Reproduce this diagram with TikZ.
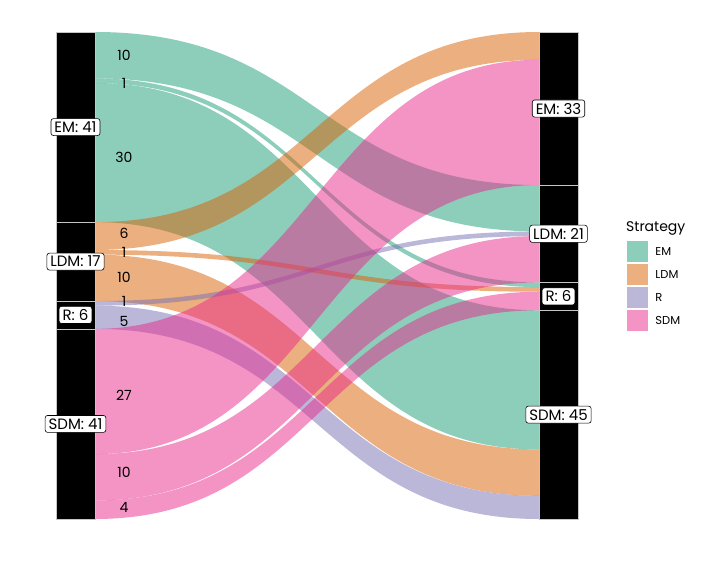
\documentclass[tikz,border=0pt]{standalone}
\usepackage{fontspec}
\setmainfont{Poppins}
\usetikzlibrary{positioning}
\tikzset{>=latex}
\definecolor{emColour}{RGB}{27,158,119}
\definecolor{ldmColour}{RGB}{217,95,2}
\definecolor{rColour}{RGB}{117,112,179}
\definecolor{sdmColour}{RGB}{231,41,138}
\tikzset{
	stratumbox/.style={fill=black, draw=gray!45, line width=0.6pt},
	stratumlabel/.style={draw=black, fill=white, rounded corners=2.5pt, inner xsep=3.5pt, inner ysep=3pt, line width=0.6pt, font=\fontsize{15}{15}\selectfont},
	flowlabel/.style={inner sep=0pt, font=\fontsize{14}{14}\selectfont},
	legendkey/.style={minimum size=21pt, inner sep=0pt},
	legendtext/.style={inner sep=0pt, anchor=west, font=\fontsize{11.5}{11.5}\selectfont}
}
\newcommand{\ky}[1]{32+4.6381*#1}
\begin{document}
\begin{tikzpicture}[x=1pt, y=-1pt]
		\useasboundingbox (0,0) rectangle (701,573);

		% the flows, left range and right range in counts
		\foreach \col/\la/\lb/\ra/\rb in {emColour/0/10/33/43, emColour/10/11/54/55, emColour/11/41/60/90,
			ldmColour/41/47/0/6, ldmColour/47/48/55/56, ldmColour/48/58/90/100,
			rColour/58/59/43/44, rColour/59/64/100/105,
			sdmColour/64/91/6/33, sdmColour/91/101/44/54, sdmColour/101/105/56/60}
			\fill[\col, fill opacity=0.5] (95,{\ky{\la}}) .. controls (317,{\ky{\la}}) and (317,{\ky{\ra}}) .. (539,{\ky{\ra}})
				-- (539,{\ky{\rb}}) .. controls (317,{\ky{\rb}}) and (317,{\ky{\lb}}) .. (95,{\ky{\lb}}) -- cycle;

		% the strata
		\foreach \a/\b in {0/41, 41/58, 58/64, 64/105}
			\draw[stratumbox] (56,{\ky{\a}}) rectangle (95,{\ky{\b}});
		\foreach \a/\b in {0/33, 33/54, 54/60, 60/105}
			\draw[stratumbox] (539,{\ky{\a}}) rectangle (578,{\ky{\b}});

		% flow counts
		\node[flowlabel] (nEMLDM) at (124,{\ky{5}}) {10};
		\node[flowlabel] (nEMR) at (124,{\ky{11}}) {1};
		\node[flowlabel] (nEMSDM) at (124,{\ky{27}}) {30};
		\node[flowlabel] (nLDMEM) at (124,{\ky{43.5}}) {6};
		\node[flowlabel] (nLDMR) at (124,{\ky{47.5}}) {1};
		\node[flowlabel] (nLDMSDM) at (124,{\ky{53}}) {10};
		\node[flowlabel] (nRLDM) at (124,{\ky{58}}) {1};
		\node[flowlabel] (nRSDM) at (124,{\ky{62.3}}) {5};
		\node[flowlabel] (nSDMEM) at (124,{\ky{78.3}}) {27};
		\node[flowlabel] (nSDMLDM) at (124,{\ky{95}}) {10};
		\node[flowlabel] (nSDMR) at (124,{\ky{102.5}}) {4};

		% stratum labels
		\node[stratumlabel] (leftEM) at (75.5,{\ky{20.5}}) {EM: 41};
		\node[stratumlabel] (leftLDM) at (75.5,{\ky{49.5}}) {LDM: 17};
		\node[stratumlabel] (leftR) at (75.5,{\ky{61}}) {R: 6};
		\node[stratumlabel] (leftSDM) at (75.5,{\ky{84.5}}) {SDM: 41};
		\node[stratumlabel] (rightEM) at (558.5,{\ky{16.5}}) {EM: 33};
		\node[stratumlabel] (rightLDM) at (558.5,{\ky{43.5}}) {LDM: 21};
		\node[stratumlabel] (rightR) at (558.5,{\ky{57}}) {R: 6};
		\node[stratumlabel] (rightSDM) at (558.5,{\ky{82.5}}) {SDM: 45};

		% legend
		\node[anchor=west, inner sep=0pt, font=\fontsize{14}{14}\selectfont] (legendTitle) at (626,228) {Strategy};
		\node[legendkey, fill=emColour!50] (keyEM) at (637.5,251.5) {};
		\node[legendkey, fill=ldmColour!50] (keyLDM) at (637.5,274.5) {};
		\node[legendkey, fill=rColour!50] (keyR) at (637.5,297.5) {};
		\node[legendkey, fill=sdmColour!50] (keySDM) at (637.5,320.5) {};
		\node[legendtext, right=7pt of keyEM] (txtEM) {EM};
		\node[legendtext, right=7pt of keyLDM] (txtLDM) {LDM};
		\node[legendtext, right=7pt of keyR] (txtR) {R};
		\node[legendtext, right=7pt of keySDM] (txtSDM) {SDM};
	\end{tikzpicture}
\end{document}
